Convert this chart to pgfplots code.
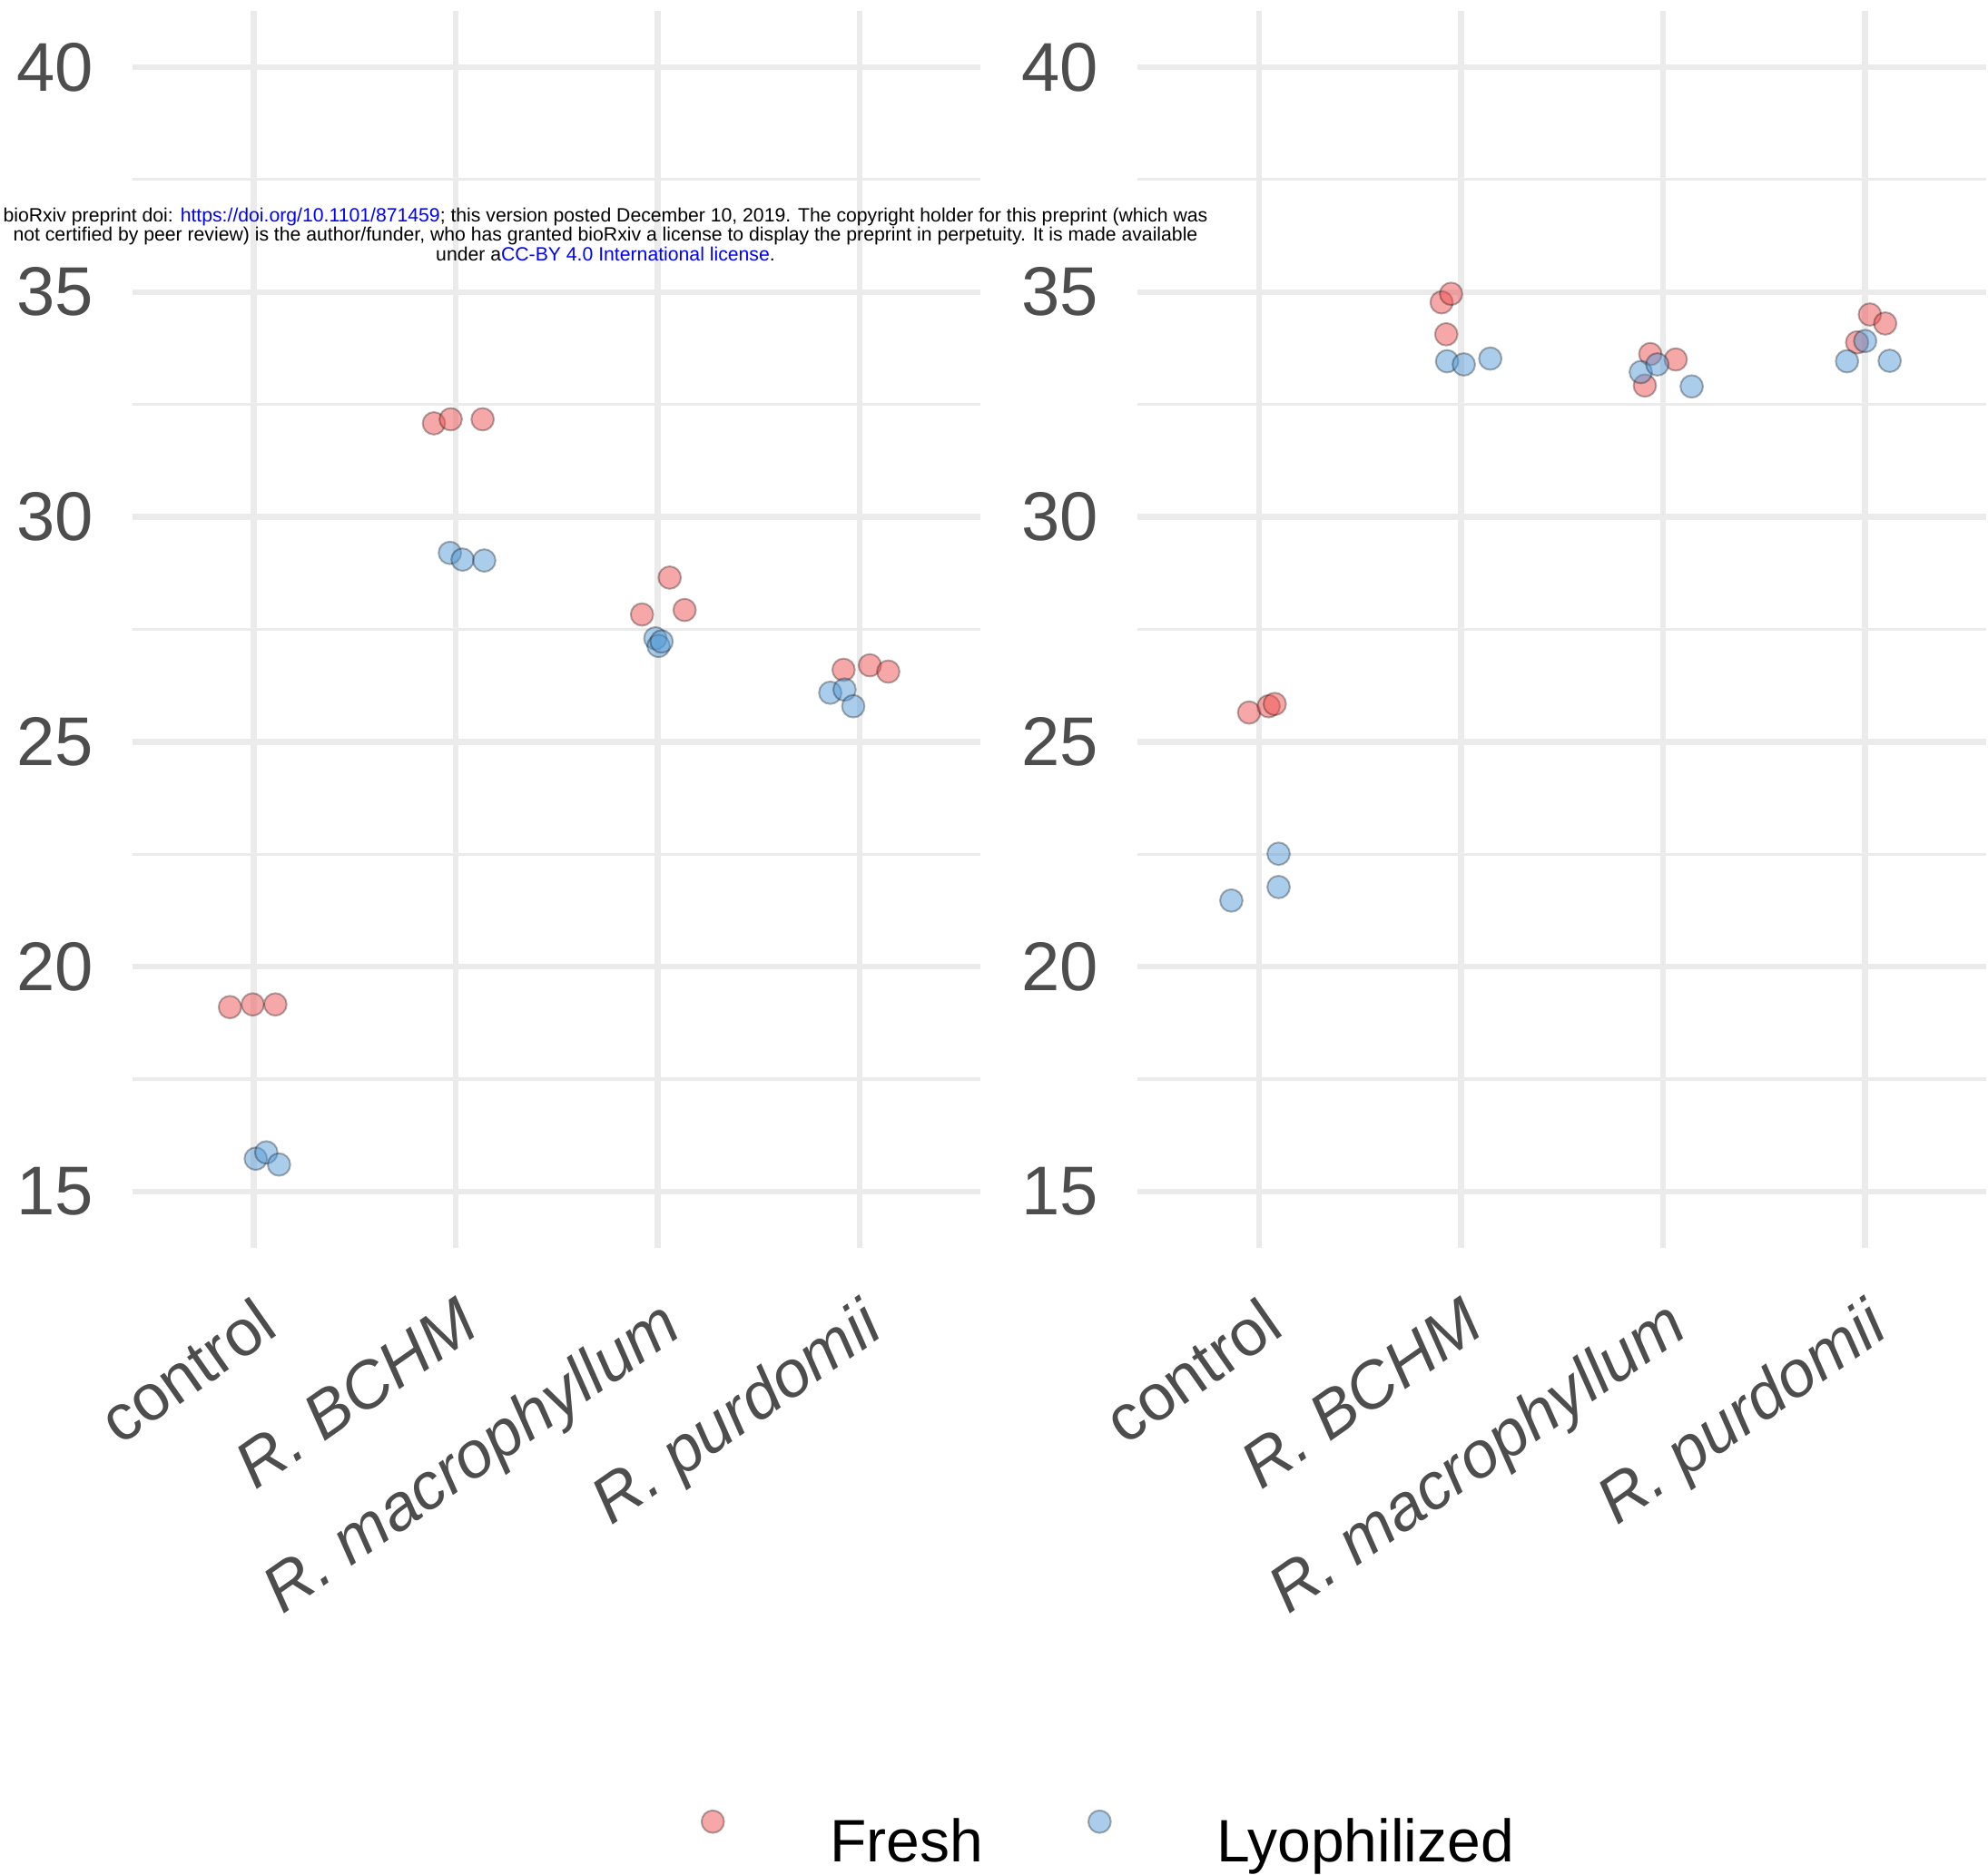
\documentclass[border=0pt]{standalone}
\usepackage{fontspec}
\setmainfont{Liberation Sans}
\usepackage{pgfplots}
\pgfplotsset{compat=1.18}
\definecolor{freshc}{RGB}{238,80,80}
\definecolor{lyoc}{RGB}{85,155,215}
\definecolor{gridc}{RGB}{235,235,235}
\definecolor{tickc}{RGB}{77,77,77}
\pgfplotsset{
  panel/.style={
    scale only axis, width=233.65pt, height=340.7pt,
    xmin=0.4, xmax=4.6, ymin=13.75, ymax=41.25,
    xtick={1,2,3,4},
    xticklabels={control, \textit{R. BCHM}, \textit{R. macrophyllum}, \textit{R. purdomii}},
    ytick={15,20,25,30,35,40},
    minor ytick={17.5,22.5,27.5,32.5,37.5},
    grid=both,
    major grid style={gridc, line width=1.6pt},
    minor grid style={gridc, line width=0.8pt},
    axis line style={draw=none},
    major tick length=0pt, minor tick length=0pt,
    tick style={draw=none},
    /pgf/number format/assume math mode=true,
    ticklabel style={text=tickc},
    yticklabel style={font=\fontsize{19}{22}\selectfont, anchor=east, inner sep=0pt, xshift=-10.6pt},
    xticklabel style={font=\fontsize{18}{21}\selectfont, inner sep=0pt, anchor=north east, yshift=-12.75pt, rotate=35},
    clip=false,
  },
  fresh/.style={only marks, mark=*, mark size=3.1pt,
    mark options={fill=freshc, fill opacity=0.5, draw=black, draw opacity=0.3, line width=0.5pt}},
  lyo/.style={only marks, mark=*, mark size=3.1pt,
    mark options={fill=lyoc, fill opacity=0.5, draw=black, draw opacity=0.3, line width=0.5pt}},
}
\begin{document}
\begin{tikzpicture}
\path[use as bounding box] (0,0) rectangle (547.5pt,-516.25pt);
\begin{axis}[panel, at={(36.45pt,-343.7pt)}, anchor=south west,
  legend columns=2,
  legend image code/.code={\draw[#1] plot coordinates {(0pt,5.9pt)};},
  legend style={at={(axis description cs:0.6709,-0.478)}, anchor=west, draw=none, fill=none,
    inner sep=0pt, outer sep=0pt,
    font=\fontsize{16.5}{19}\selectfont,
    nodes={inner sep=0pt},
    /tikz/every odd column/.append style={column sep=29.15pt},
    /tikz/every even column/.append style={column sep=29.0pt}},
  legend cell align=left]
\addplot[fresh] coordinates {(0.883,19.10)(0.996,19.16)(1.108,19.16)(1.893,32.08)(1.976,32.17)(2.134,32.17)(2.923,27.83)(3.060,28.65)(3.134,27.93)(3.921,26.60)(4.051,26.70)(4.142,26.56)};
\addlegendentry{Fresh}
\addplot[lyo] coordinates {(1.011,15.73)(1.063,15.87)(1.126,15.60)(1.972,29.20)(2.035,29.05)(2.142,29.03)(2.989,27.30)(3.005,27.13)(3.020,27.23)(3.855,26.09)(3.926,26.16)(3.969,25.79)};
\addlegendentry{Lyophilized}
\end{axis}
\begin{axis}[panel, at={(313.35pt,-343.7pt)}, anchor=south west]
\addplot[fresh] coordinates {(0.951,25.65)(1.048,25.79)(1.078,25.84)(1.904,34.77)(1.951,34.96)(1.927,34.06)(2.937,33.62)(3.063,33.50)(2.910,32.92)(4.024,34.50)(4.100,34.30)(3.961,33.88)};
\addplot[lyo] coordinates {(1.097,22.51)(1.097,21.77)(0.863,21.47)(1.931,33.46)(2.014,33.39)(2.145,33.52)(2.890,33.22)(2.972,33.39)(3.142,32.90)(3.911,33.46)(4.001,33.91)(4.122,33.47)};
\end{axis}
\node[align=center, inner sep=0pt, font=\fontsize{5.3}{5.3}\selectfont] at (166.75pt,-64.6pt)
{bioRxiv preprint doi: \textcolor{blue}{https://doi.org/10.1101/871459}; this version posted December 10, 2019. The copyright holder for this preprint (which was\\
not certified by peer review) is the author/funder, who has granted bioRxiv a license to display the preprint in perpetuity. It is made available\\
under a\textcolor{blue}{CC-BY 4.0 International license}.};
\end{tikzpicture}
\end{document}
